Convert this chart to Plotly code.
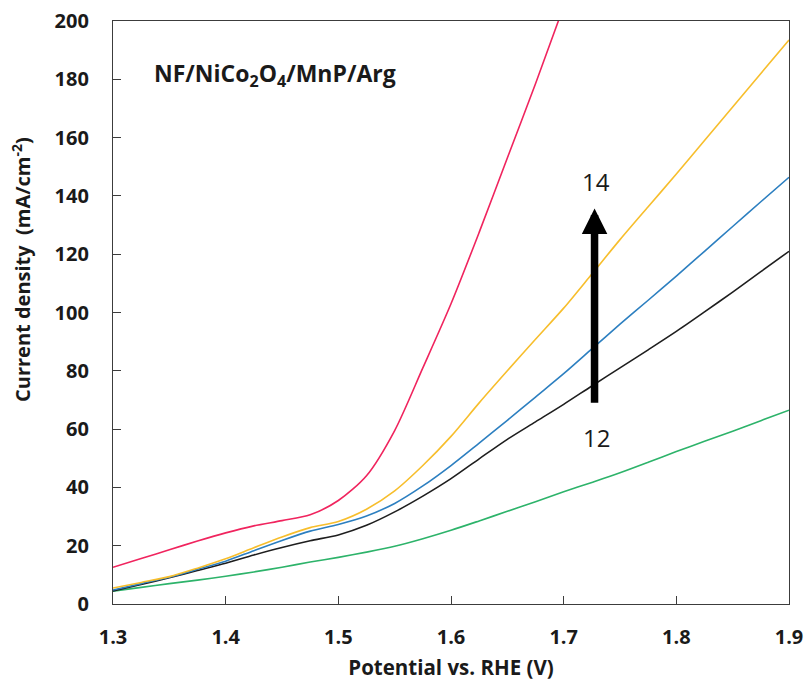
import plotly.graph_objects as go

# Potential (V vs. RHE) sample points shared by the polarization curves
potential = [1.300, 1.325, 1.350, 1.375, 1.400, 1.425, 1.450, 1.475, 1.500,
             1.525, 1.550, 1.575, 1.600, 1.625, 1.650, 1.675, 1.700, 1.725,
             1.750, 1.775, 1.800, 1.825, 1.850, 1.875, 1.900]

# Current density (mA/cm^2) for each curve
j_red = [12.6, 15.6, 18.6, 21.6, 24.4, 26.8, 28.6, 30.6, 35.5,
         44.0, 59.5, 81.0, 103.0, 127.5, 153.0, 178.5, 205.0]
j_yellow = [5.5, 7.4, 9.4, 12.3, 15.5, 19.3, 23.0, 26.2, 28.3,
            32.5, 38.8, 47.5, 57.5, 69.0, 80.0, 90.8, 101.5, 113.2,
            125.0, 136.3, 147.5, 159.0, 170.5, 182.0, 193.5]
j_blue = [4.8, 7.0, 9.2, 11.9, 14.7, 18.3, 21.8, 25.0, 27.3,
          30.2, 34.5, 40.5, 47.5, 55.2, 63.0, 71.0, 79.0, 87.5,
          96.0, 104.2, 112.5, 121.0, 129.5, 138.0, 146.4]
j_black = [4.5, 6.7, 9.0, 11.5, 14.0, 16.8, 19.4, 21.7, 23.7,
           27.0, 31.6, 37.0, 43.0, 49.8, 56.5, 62.5, 68.5, 74.8,
           81.0, 87.2, 93.5, 100.2, 107.0, 114.0, 121.0]
j_green = [4.4, 5.7, 7.0, 8.2, 9.5, 11.0, 12.6, 14.4, 16.0,
           17.8, 19.8, 22.4, 25.3, 28.5, 31.8, 35.1, 38.5, 41.7,
           45.0, 48.6, 52.3, 55.8, 59.3, 62.9, 66.5]

x_ticks = [1.3, 1.4, 1.5, 1.6, 1.7, 1.8, 1.9]
y_ticks = [0, 20, 40, 60, 80, 100, 120, 140, 160, 180, 200]

series = [
    (j_green, "#2DB36A"),
    (j_black, "#1E1E1E"),
    (j_blue, "#2C7FC0"),
    (j_yellow, "#F7BE2C"),
    (j_red, "#F0245E"),
]

FONT = "'Open Sans', Calibri, Arial, sans-serif"
INK = "#1a1a1a"

fig = go.Figure()
for values, color in series:
    fig.add_trace(go.Scatter(
        x=potential[:len(values)], y=values, mode="lines",
        line=dict(color=color, width=1.6, shape="spline", smoothing=0.8),
        showlegend=False, hoverinfo="skip",
    ))

axis_common = dict(
    showgrid=False, zeroline=False, showline=True, mirror=True,
    linecolor="#3c3c3c", linewidth=1.3, automargin=False,
    ticks="inside", ticklen=8, tickwidth=1.3, tickcolor="#3c3c3c",
    tickfont=dict(family=FONT, size=20, color=INK, weight="bold"),
)

fig.update_xaxes(
    range=[1.3, 1.9], tickvals=x_ticks,
    ticktext=[f"{v:.1f}" for v in x_ticks],
    ticklabelstandoff=15,
    title=dict(text="<b>Potential vs. RHE (V)</b>", standoff=11,
               font=dict(family=FONT, size=20.5, color=INK)),
    **axis_common,
)
fig.update_yaxes(
    range=[0, 200], tickvals=y_ticks,
    ticklabelstandoff=19,
    **axis_common,
)

# Y-axis title, sitting a little above the axis midpoint
fig.add_annotation(
    x=-0.1346, y=0.573, xref="paper", yref="paper",
    xanchor="center", yanchor="middle", textangle=-90,
    text="<b>Current density  (mA/cm<sup>-2</sup>)</b>", showarrow=False,
    font=dict(family=FONT, size=20, color=INK),
)

# Sample label
fig.add_annotation(
    x=1.335, y=181.5, xref="x", yref="y", xanchor="left", yanchor="middle",
    text="<b>NF/NiCo<sub>2</sub>O<sub>4</sub>/MnP/Arg</b>", showarrow=False,
    font=dict(family=FONT, size=23, color=INK),
)

# Trend arrow from 12 to 14
fig.add_annotation(
    x=1.7274, y=135.7, ax=1.7274, ay=68.5, xref="x", yref="y",
    axref="x", ayref="y", text="", showarrow=True,
    arrowhead=2, arrowsize=0.68, arrowwidth=7.5, arrowcolor="#000000",
    standoff=0, startstandoff=0,
)
fig.add_annotation(
    x=1.729, y=145, xref="x", yref="y", text="14", showarrow=False,
    font=dict(family=FONT, size=24, color=INK),
)
fig.add_annotation(
    x=1.729, y=57, xref="x", yref="y", text="12", showarrow=False,
    font=dict(family=FONT, size=24, color=INK),
)

fig.update_layout(
    width=809, height=681,
    margin=dict(l=113, r=20, t=21, b=77),
    paper_bgcolor="white", plot_bgcolor="white",
    font=dict(family=FONT),
)

fig.write_html("out.html")
